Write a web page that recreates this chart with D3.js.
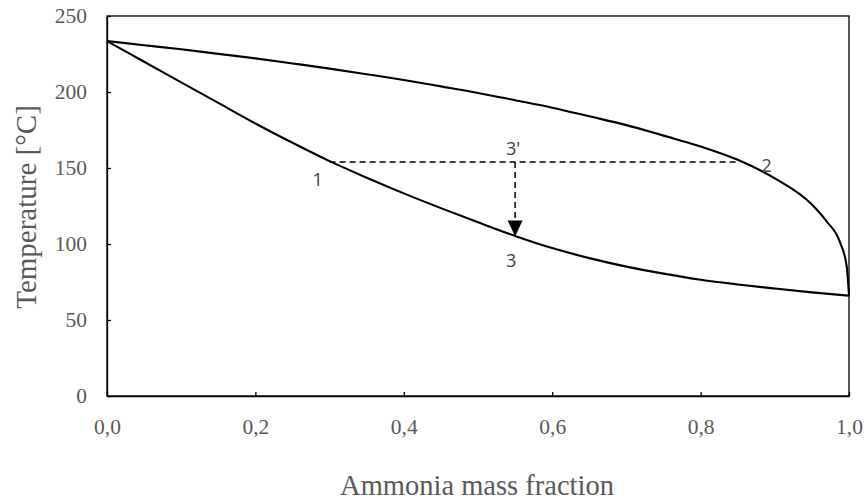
<!DOCTYPE html>
<html>
<head>
<meta charset="utf-8">
<script src="https://cdn.jsdelivr.net/npm/d3@7"></script>
<style>
  html, body { margin: 0; padding: 0; background: #fff; }
  svg { display: block; }
</style>
</head>
<body>
<svg id="chart" width="864" height="504"></svg>
<script>
// Ammonia–water phase diagram: bubble (saturated liquid) and dew (saturated vapour) curves
const massFraction = [0, 0.05, 0.1, 0.15, 0.2, 0.25, 0.3, 0.35, 0.4, 0.45, 0.5, 0.55, 0.6, 0.65, 0.7, 0.75, 0.8, 0.85, 0.9, 0.95, 1.0];
const bubbleTemp   = [233.5, 219.9, 206.3, 192.8, 179.3, 166.6, 154.5, 143.6, 133.3, 123.6, 114.3, 105.3, 97.3, 90.7, 85.1, 80.5, 76.5, 73.4, 70.7, 68.2, 66];

const dewFraction = [0, 0.05, 0.1, 0.15, 0.2, 0.25, 0.3, 0.35, 0.4, 0.45, 0.5, 0.55, 0.6, 0.65, 0.7, 0.75, 0.8, 0.85, 0.9, 0.95, 0.97, 0.988, 0.997, 1.0];
const dewTemp     = [233.5, 230.8, 228.1, 225.1, 222.1, 218.8, 215.4, 211.7, 207.9, 203.7, 199.4, 194.6, 189.7, 184.0, 178.2, 171.3, 164.2, 155.4, 143.2, 126.0, 114.8, 101.0, 85, 66];

// Process states: 1 (liquid), 2 (vapour), 3' (mixture), 3 (after cooling)
const stateNames = ["1", "2", "3'", "3"];
const stateX     = [0.30, 0.85, 0.55, 0.55];
const stateT     = [154, 154, 154, 105];

const xTicks = [0, 0.2, 0.4, 0.6, 0.8, 1.0];
const yTicks = [0, 50, 100, 150, 200, 250];

const svg = d3.select("#chart");
const plotLeft = 107, plotRight = 849, plotTop = 16, plotBottom = 396;

const x = d3.scaleLinear().domain([0, 1]).range([plotLeft, plotRight]);
const y = d3.scaleLinear().domain([0, 250]).range([plotBottom, plotTop]);

const commaLocale = d3.formatLocale({ decimal: ",", thousands: ".", grouping: [3], currency: ["", ""] });
const fmtX = commaLocale.format(".1f");

const tickFont = "'Liberation Serif', 'Times New Roman', serif";
const tickColor = "#595959";

// Plot frame
svg.append("rect")
  .attr("x", plotLeft).attr("y", plotTop)
  .attr("width", plotRight - plotLeft).attr("height", plotBottom - plotTop)
  .attr("fill", "none").attr("stroke", "#000").attr("stroke-width", 1.3);

// Axes with inward ticks
const gx = svg.append("g").attr("transform", `translate(0,${plotBottom})`)
  .call(d3.axisBottom(x).tickValues(xTicks).tickFormat(fmtX).tickSizeInner(-4).tickSizeOuter(0).tickPadding(23));
const gy = svg.append("g").attr("transform", `translate(${plotLeft},0)`)
  .call(d3.axisLeft(y).tickValues(yTicks).tickSizeInner(-4).tickSizeOuter(0).tickPadding(20));

[gx, gy].forEach(g => {
  g.select(".domain").attr("stroke", "#000").attr("stroke-width", 1.3);
  g.selectAll(".tick line").attr("stroke", "#000").attr("stroke-width", 1.3);
  g.selectAll(".tick text")
    .attr("fill", tickColor)
    .style("font-family", tickFont)
    .style("font-size", "21.5px");
});

// Curves
const line = d3.line()
  .x(d => x(d[0]))
  .y(d => y(d[1]))
  .curve(d3.curveMonotoneX);

svg.append("path")
  .datum(massFraction.map((f, i) => [f, bubbleTemp[i]]))
  .attr("d", line)
  .attr("fill", "none").attr("stroke", "#000").attr("stroke-width", 2.1);

svg.append("path")
  .datum(dewFraction.map((f, i) => [f, dewTemp[i]]))
  .attr("d", line)
  .attr("fill", "none").attr("stroke", "#000").attr("stroke-width", 2.1);

// Arrowhead marker
svg.append("defs").append("marker")
  .attr("id", "arrow")
  .attr("markerUnits", "userSpaceOnUse")
  .attr("markerWidth", 16).attr("markerHeight", 16)
  .attr("viewBox", "0 0 16 16")
  .attr("refX", 16).attr("refY", 7.5)
  .attr("orient", "auto")
  .append("path")
  .attr("d", "M0,0 L16,7.5 L0,15 Z")
  .attr("fill", "#000");

// Isothermal split 1 – 2 and cooling 3' → 3
svg.append("line")
  .attr("x1", x(stateX[0])).attr("y1", y(stateT[0]))
  .attr("x2", x(stateX[1])).attr("y2", y(stateT[1]))
  .attr("stroke", "#000").attr("stroke-width", 1.5)
  .attr("stroke-dasharray", "6,4");

svg.append("line")
  .attr("x1", x(stateX[2])).attr("y1", y(stateT[2]))
  .attr("x2", x(stateX[3])).attr("y2", y(stateT[3]))
  .attr("stroke", "#000").attr("stroke-width", 1.5)
  .attr("stroke-dasharray", "6,4")
  .attr("marker-end", "url(#arrow)");

// State labels
const labelOffsets = [[-12, 24], [29, 10], [-2, -7], [-4, 31]];
svg.selectAll("text.state")
  .data(stateNames)
  .join("text")
  .attr("class", "state")
  .attr("x", (d, i) => x(stateX[i]) + labelOffsets[i][0])
  .attr("y", (d, i) => y(stateT[i]) + labelOffsets[i][1])
  .attr("text-anchor", "middle")
  .attr("fill", "#404040")
  .style("font-family", "'Open Sans', 'Noto Sans', sans-serif")
  .style("font-size", "18px")
  .text(d => d);

// Axis titles
svg.append("text")
  .attr("x", (plotLeft + plotRight) / 2 - 1).attr("y", 495)
  .attr("text-anchor", "middle")
  .attr("fill", tickColor)
  .style("font-family", tickFont)
  .style("font-size", "28.5px")
  .text("Ammonia mass fraction");

svg.append("text")
  .attr("transform", "translate(36,207) rotate(-90)")
  .attr("text-anchor", "middle")
  .attr("fill", tickColor)
  .style("font-family", tickFont)
  .style("font-size", "29px")
  .text("Temperature [°C]");
</script>
</body>
</html>
